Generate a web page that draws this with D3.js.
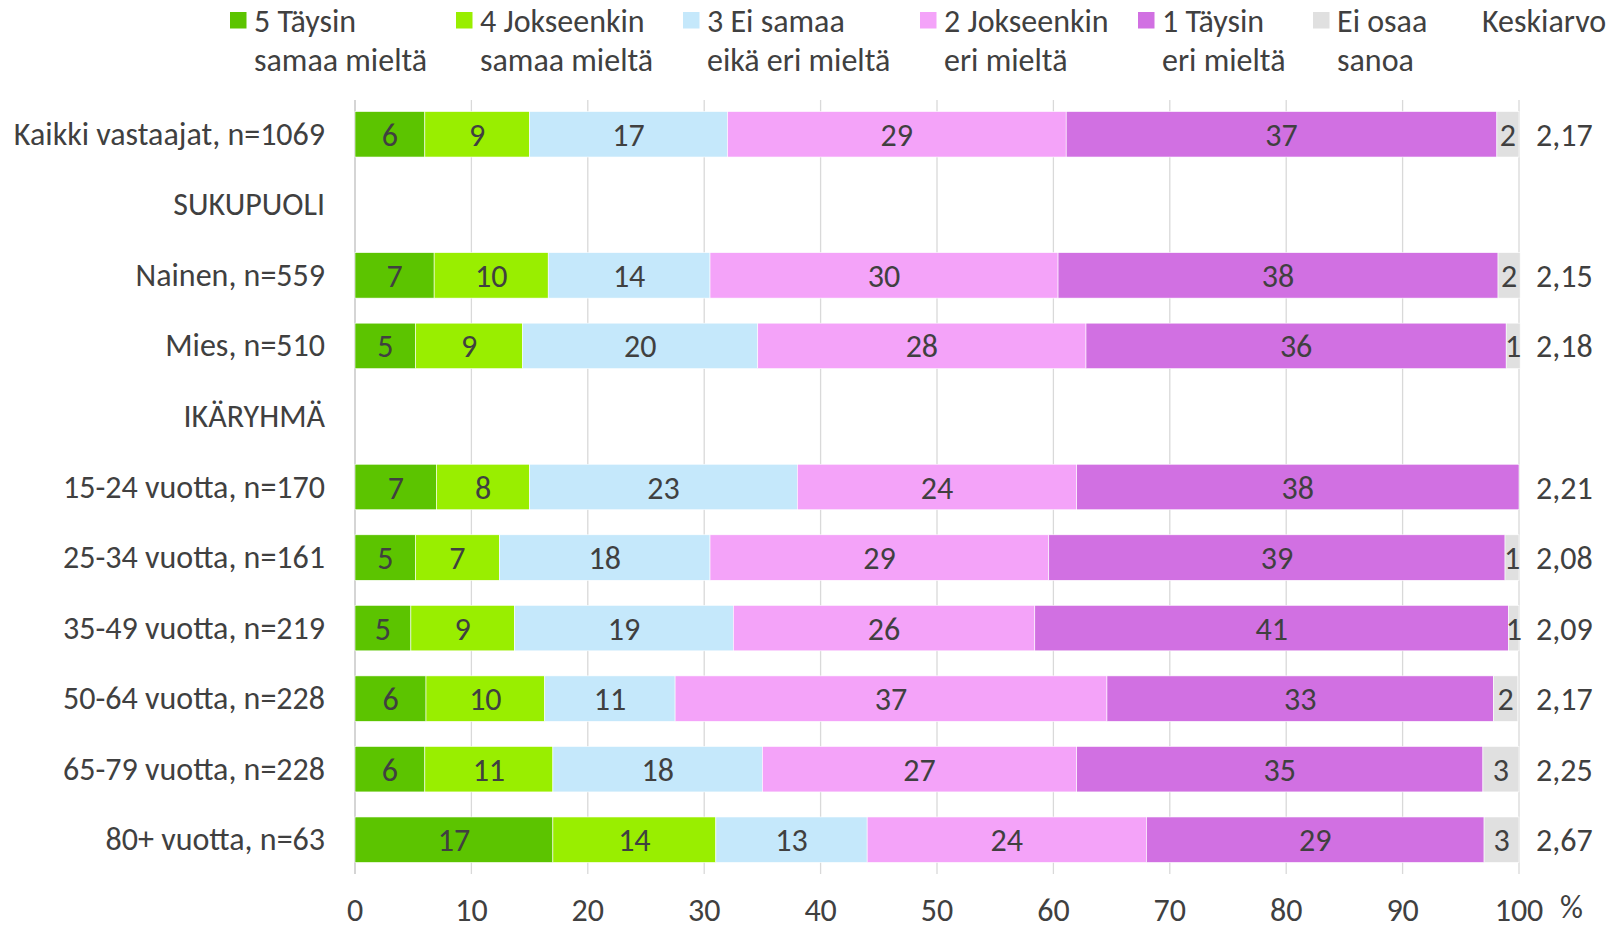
<!DOCTYPE html>
<html><head><meta charset="utf-8">
<script src="https://cdn.jsdelivr.net/npm/d3@7"></script>
<style>
html,body{margin:0;padding:0;background:#fff;}
text{font-family:Carlito,"Open Sans",sans-serif;fill:#404040;}
</style></head>
<body><svg id="chart" width="1622" height="930"></svg>
<script>
const categories = ["Kaikki vastaajat, n=1069","SUKUPUOLI","Nainen, n=559","Mies, n=510","IKÄRYHMÄ",
  "15-24 vuotta, n=170","25-34 vuotta, n=161","35-49 vuotta, n=219","50-64 vuotta, n=228","65-79 vuotta, n=228","80+ vuotta, n=63"];
const seriesNames = [["5 Täysin","samaa mieltä"],["4 Jokseenkin","samaa mieltä"],["3 Ei samaa","eikä eri mieltä"],["2 Jokseenkin","eri mieltä"],["1 Täysin","eri mieltä"],["Ei osaa","sanoa"]];
const colors = ["#5cc400","#99ee00","#c5e8fb","#f4a3f9","#d170e2","#e0e0e0"];
const s5 = [6.0, null, 6.8, 5.2, null, 7.0, 5.2, 4.8, 6.1, 6.0, 17.0];
const s4 = [9.0, null, 9.8, 9.2, null, 8.0, 7.2, 8.9, 10.2, 11.0, 14.0];
const s3 = [17.0, null, 13.9, 20.2, null, 23.0, 18.1, 18.8, 11.2, 18.0, 13.0];
const s2 = [29.1, null, 29.9, 28.2, null, 24.0, 29.1, 25.9, 37.1, 27.0, 24.0];
const s1 = [37.0, null, 37.8, 36.1, null, 38.0, 39.2, 40.7, 33.2, 34.9, 29.0];
const s0 = [1.9, null, 1.9, 1.2, null, 0.0, 1.2, 0.9, 2.1, 3.1, 3.0];
const means = ["2,17","","2,15","2,18","","2,21","2,08","2,09","2,17","2,25","2,67"];
const xTicks = [0,10,20,30,40,50,60,70,80,90,100];

const series = [s5,s4,s3,s2,s1,s0];
const svg = d3.select("#chart");
const FS = 32;
const x = d3.scaleLinear().domain([0,100]).range([355,1519]);
const y = d3.scaleBand().domain(categories).range([99,875]).paddingInner(0.355).paddingOuter(0.1775);

// gridlines
svg.append("g").selectAll("line").data(xTicks).join("line")
  .attr("x1",d=>x(d)).attr("x2",d=>x(d)).attr("y1",100).attr("y2",874)
  .attr("stroke",d=>d===0?"#bfbfbf":"#d9d9d9").attr("stroke-width",1.3);

// bars
const rows = categories.map((c,i)=>{
  let acc=0; const segs=[];
  series.forEach((s,k)=>{ const v=s[i]; if(v==null) return; segs.push({c,k,x0:acc,x1:acc+v,v}); acc+=v; });
  return segs;
});
const segs = rows.flat();
svg.append("g").selectAll("rect").data(segs.filter(d=>d.v>0)).join("rect")
  .attr("x",d=>x(d.x0)).attr("width",d=>x(d.x1)-x(d.x0))
  .attr("y",d=>y(d.c)).attr("height",y.bandwidth())
  .attr("fill",d=>colors[d.k]).attr("stroke","#fff").attr("stroke-width",0.6);
svg.append("g").selectAll("text").data(segs.filter(d=>Math.round(d.v)>0)).join("text")
  .attr("x",d=>x((d.x0+d.x1)/2)).attr("y",d=>y(d.c)+y.bandwidth()/2+1)
  .attr("text-anchor","middle").attr("dominant-baseline","central")
  .style("font-size",FS+"px").text(d=>Math.round(d.v));

// category labels
svg.append("g").selectAll("text").data(categories).join("text")
  .attr("x",325).attr("y",d=>y(d)+y.bandwidth()/2)
  .attr("text-anchor","end").attr("dominant-baseline","central")
  .style("font-size",FS+"px").text(d=>d);

// means
svg.append("g").selectAll("text").data(categories).join("text")
  .attr("x",1536).attr("y",d=>y(d)+y.bandwidth()/2+1)
  .attr("dominant-baseline","central").style("font-size",FS+"px")
  .text((d,i)=>means[i]);

// x axis labels
svg.append("g").selectAll("text").data(xTicks).join("text")
  .attr("x",d=>x(d)).attr("y",910).attr("text-anchor","middle")
  .attr("dominant-baseline","central").style("font-size",FS+"px").text(d=>d);
svg.append("text").attr("x",1560).attr("y",907).attr("dominant-baseline","central")
  .style("font-size",FS+"px").text("%");

// legend
const legX = [230,456,683,920,1138,1313];
const lg = svg.append("g").selectAll("g").data(seriesNames).join("g")
  .attr("transform",(d,i)=>`translate(${legX[i]},0)`);
lg.append("rect").attr("x",0).attr("y",12).attr("width",16.5).attr("height",16.5).attr("fill",(d,i)=>colors[i]);
lg.append("text").attr("x",24).attr("y",21).attr("dominant-baseline","central").style("font-size",FS+"px").text(d=>d[0]);
lg.append("text").attr("x",24).attr("y",60).attr("dominant-baseline","central").style("font-size",FS+"px").text(d=>d[1]);
svg.append("text").attr("x",1482).attr("y",21).attr("dominant-baseline","central").style("font-size",FS+"px").text("Keskiarvo");
</script></body></html>
